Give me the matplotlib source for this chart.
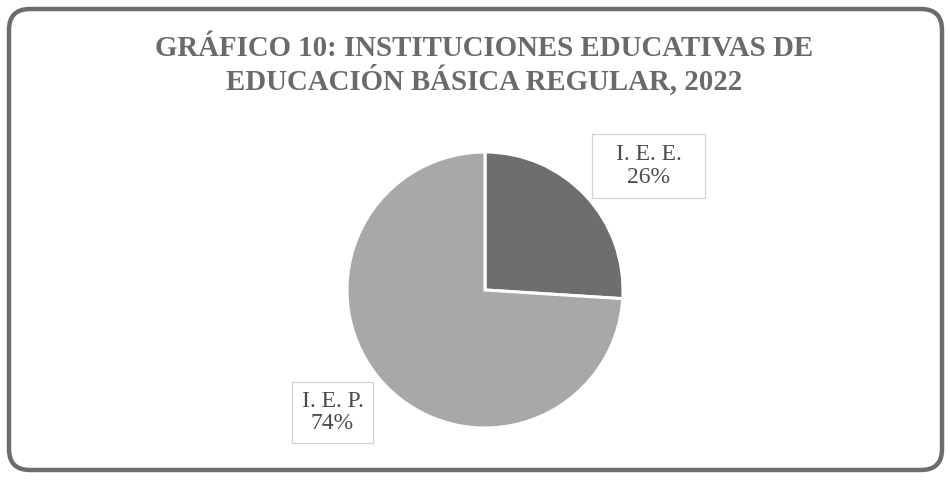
import matplotlib
matplotlib.use('Agg')
import matplotlib.pyplot as plt
import matplotlib.patches as patches

categories = ['I. E. E.', 'I. E. P.']
shares = [26, 74]
colors = ['#6e6e70', '#a8a8ab']

title = 'GRÁFICO 10: INSTITUCIONES EDUCATIVAS DE\nEDUCACIÓN BÁSICA REGULAR, 2022'

plt.rcParams['font.family'] = ['Liberation Serif', 'DejaVu Serif']

W, H = 950, 480
fig = plt.figure(figsize=(9.5, 4.8), dpi=100)
fig.patch.set_facecolor('white')

# rounded frame around the chart
frame = patches.FancyBboxPatch((9 / W, 10 / H), 933 / W, 461 / H,
                               boxstyle='round,pad=0,rounding_size=0.022',
                               transform=fig.transFigure, fill=False,
                               edgecolor='#6c6c6e', linewidth=3.2,
                               mutation_aspect=W / H)
fig.patches.append(frame)

fig.text(484 / W, 1 - 35 / H, title, ha='center', va='top', fontsize=20.8,
         fontweight='bold', color='#6a6a6c', linespacing=1.07)

# pie: center ~ (485, 290) px, radius ~ 138 px
ax = fig.add_axes([(485 - 140) / W, (H - 290 - 140) / H, 280 / W, 280 / H])
wedges, _ = ax.pie(shares, colors=colors, startangle=90, counterclock=False,
                   radius=138 / 140,
                   wedgeprops=dict(edgecolor='white', linewidth=2.2))
ax.set_xlim(-1, 1)
ax.set_ylim(-1, 1)
ax.set_aspect('equal')
ax.axis('off')

# label boxes (left, top, right, bottom in px)
boxes = [(592, 134, 705, 198), (292, 382, 373, 443)]
for cat, val, (x0, y0, x1, y1) in zip(categories, shares, boxes):
    rect = patches.Rectangle((x0 / W, 1 - y1 / H), (x1 - x0) / W, (y1 - y0) / H,
                             transform=fig.transFigure, facecolor='white',
                             edgecolor='#d2d2d2', linewidth=0.9)
    fig.patches.append(rect)
    fig.text((x0 + x1) / 2 / W, 1 - (y0 + y1) / 2 / H, f'{cat}\n{val}%',
             ha='center', va='center', fontsize=17, color='#4a4a4c',
             linespacing=1.12)

fig.savefig('out.png', dpi=100, facecolor='white')
